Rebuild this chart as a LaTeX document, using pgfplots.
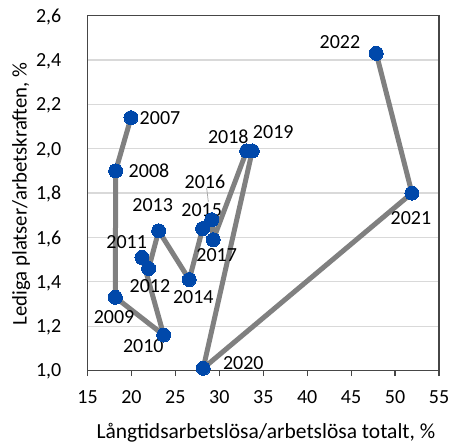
\documentclass[border=0pt]{standalone}
\usepackage{fontspec}
\setmainfont{Carlito}
\usepackage{pgfplots}
\usepackage{pgfplotstable}
\pgfplotsset{compat=1.18}

\definecolor{dotblue}{RGB}{0,72,170}
\definecolor{linegray}{RGB}{128,128,128}
\definecolor{gridgray}{RGB}{217,217,217}
\definecolor{framegray}{RGB}{70,70,70}

% long-term unemployed share (x) vs vacancy rate (y), by year
\pgfplotstableread{
x     y     year
19.95 2.14  2007
18.20 1.90  2008
18.17 1.33  2009
23.67 1.16  2010
21.20 1.51  2011
21.96 1.46  2012
23.10 1.63  2013
26.58 1.41  2014
28.10 1.64  2015
29.13 1.68  2016
29.31 1.59  2017
33.11 1.99  2018
33.75 1.99  2019
28.17 1.01  2020
51.92 1.80  2021
47.86 2.43  2022
}\beveridge

\begin{document}
\begin{tikzpicture}[font=\fontsize{20bp}{24bp}\selectfont]
\begin{axis}[
    at={(0,0)}, anchor=south west,
    scale only axis,
    width=351.5bp, height=354.8bp,
    xmin=15, xmax=55, ymin=1, ymax=2.6,
    xtick={15,20,...,55},
    ytick={1.0,1.2,1.4,1.6,1.8,2.0,2.2,2.4,2.6},
    ymajorgrids,
    grid style={gridgray, line width=1.3bp},
    axis line style={framegray, line width=1.2bp},
    xtick pos=bottom, ytick pos=left,
    tick align=outside,
    major tick length=5.5bp,
    xtick style={framegray, line width=1.2bp},
    ytick style={draw=none},
    /pgf/number format/assume math mode=true,
    yticklabel style={/pgf/number format/fixed, /pgf/number format/fixed zerofill,
        /pgf/number format/precision=1, /pgf/number format/use comma},
    y tick label style={anchor=east, inner sep=0pt, text depth=0pt, xshift=-20.5bp},
    x tick label style={anchor=north, inner sep=0pt, yshift=-14.5bp},
    xlabel={Långtidsarbetslösa/arbetslösa totalt, \%},
    ylabel={Lediga platser/arbetskraften, \%},
    xlabel style={at={([xshift=2.7bp,yshift=-67.8bp]axis description cs:0.5,0)}, anchor=base,
        inner sep=0pt, font=\fontsize{21.5bp}{26bp}\selectfont},
    ylabel style={at={([xshift=-60.8bp,yshift=-0.9bp]axis description cs:0,0.5)}, anchor=base,
        inner sep=0pt, font=\fontsize{20.8bp}{25bp}\selectfont},
    clip=false,
]
\addplot[linegray, line width=5bp, line join=round,
    mark=*, mark size=7bp, mark options={dotblue, draw=dotblue, line width=0pt}]
    table[x=x, y=y]{\beveridge};

\begin{scope}[every node/.style={inner sep=0pt, text depth=0pt}]
\node at (axis cs:23.25,2.139) {2007};
\node at (axis cs:22.00,1.900) {2008};
\node at (axis cs:18.02,1.243) {2009};
\node at (axis cs:21.35,1.112) {2010};
\node at (axis cs:19.46,1.578) {2011};
\node at (axis cs:22.11,1.381) {2012};
\node at (axis cs:22.42,1.746) {2013};
\node at (axis cs:27.04,1.330) {2014};
\node at (axis cs:28.00,1.724) {2015};
\node at (axis cs:28.37,1.851) {2016};
\node at (axis cs:29.70,1.521) {2017};
\node at (axis cs:31.02,2.054) {2018};
\node at (axis cs:36.14,2.077) {2019};
\node at (axis cs:32.73,1.035) {2020};
\node at (axis cs:51.81,1.686) {2021};
\node at (axis cs:43.73,2.483) {2022};
\end{scope}
\draw[linegray!70, line width=0.75bp] (axis cs:28.56,1.823) -- (axis cs:28.75,1.761);
\end{axis}
\pgfresetboundingbox
\path[use as bounding box] (-87.5bp,-72.5bp) rectangle (363.5bp,370.5bp);
\end{tikzpicture}
\end{document}
